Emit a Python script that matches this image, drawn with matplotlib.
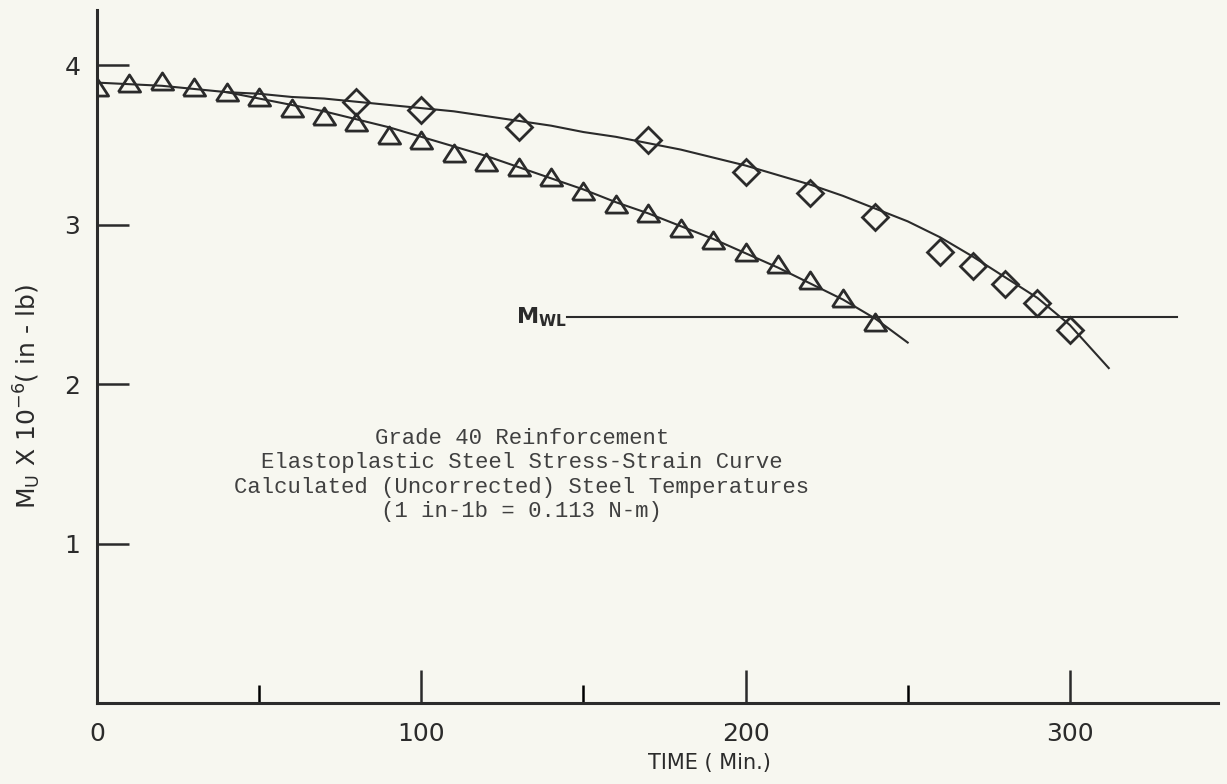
import matplotlib
matplotlib.use("Agg")
import matplotlib.pyplot as plt

# marker readings (time in min, moment x 1e-6 in-lb)
tri_t = [0, 10, 20, 30, 40, 50, 60, 70, 80, 90, 100, 110, 120, 130, 140, 150,
         160, 170, 180, 190, 200, 210, 220, 230, 240]
tri_m = [3.86, 3.89, 3.90, 3.86, 3.83, 3.80, 3.73, 3.68, 3.64, 3.56, 3.53, 3.45,
         3.39, 3.36, 3.30, 3.21, 3.13, 3.07, 2.98, 2.90, 2.83, 2.75, 2.65, 2.54, 2.39]

dia_t = [80, 100, 130, 170, 200, 220, 240, 260, 270, 280, 290, 300]
dia_m = [3.77, 3.72, 3.61, 3.53, 3.33, 3.20, 3.05, 2.83, 2.74, 2.63, 2.51, 2.34]

# fitted curves as drawn on the original
tri_curve_t = [0, 10, 20, 30, 40, 50, 60, 70, 80, 90, 100, 110, 120, 130, 140,
               150, 160, 170, 180, 190, 200, 210, 220, 230, 240, 250]
tri_curve_m = [3.89, 3.88, 3.87, 3.85, 3.83, 3.79, 3.75, 3.71, 3.66, 3.61, 3.55,
               3.49, 3.43, 3.36, 3.29, 3.22, 3.14, 3.07, 2.99, 2.91, 2.82, 2.73,
               2.63, 2.53, 2.41, 2.26]

dia_curve_t = [40, 50, 60, 70, 80, 90, 100, 110, 120, 130, 140, 150, 160, 170,
               180, 190, 200, 210, 220, 230, 240, 250, 260, 270, 280, 290, 300, 312]
dia_curve_m = [3.83, 3.82, 3.80, 3.79, 3.77, 3.75, 3.73, 3.71, 3.68, 3.65, 3.62,
               3.58, 3.55, 3.51, 3.47, 3.42, 3.37, 3.31, 3.25, 3.18, 3.10, 3.02,
               2.92, 2.80, 2.67, 2.54, 2.37, 2.10]

mwl_t = [145, 333]
mwl_m = [2.42, 2.42]

x_major = [0, 100, 200, 300]
x_minor = [50, 150, 250]
y_ticks = [1, 2, 3, 4]

note = ("Grade 40 Reinforcement\n"
        "Elastoplastic Steel Stress-Strain Curve\n"
        "Calculated (Uncorrected) Steel Temperatures\n"
        "(1 in-1b = 0.113 N-m)")

ink = "#2b2b2b"
paper = "#f7f7f0"

fig = plt.figure(figsize=(12.27, 7.84), dpi=100, facecolor=paper)
ax = fig.add_axes([0.0791, 0.1033, 0.9136, 0.8839])
ax.set_facecolor(paper)

ax.plot(tri_curve_t, tri_curve_m, color=ink, lw=1.5)
ax.plot(dia_curve_t, dia_curve_m, color=ink, lw=1.5)
ax.plot(mwl_t, mwl_m, color=ink, lw=1.5)

tri_marker = [(-1, -0.77), (1, -0.77), (0, 0.77), (-1, -0.77)]
ax.plot(tri_t, tri_m, ls="none", marker=tri_marker, ms=16, mfc="none",
        mec=ink, mew=2.0)
ax.plot(dia_t, dia_m, ls="none", marker="D", ms=13.5, mfc="none",
        mec=ink, mew=2.0)

ax.text(145, 2.42, r"$\mathregular{M_{WL}}$", ha="right", va="center",
        fontsize=16, fontweight="bold", color=ink)

ax.text(131, 1.43, note, ha="center", va="center", fontsize=16,
        family="Liberation Mono", color="#404040", linespacing=1.2)

ax.set_xlim(0, 345.7)
ax.set_ylim(0, 4.345)
for s in ["top", "right"]:
    ax.spines[s].set_visible(False)
for s in ["left", "bottom"]:
    ax.spines[s].set_linewidth(2.2)
    ax.spines[s].set_color(ink)

ax.set_xticks(x_major)
ax.set_xticks(x_minor, minor=True)
ax.set_yticks(y_ticks)
ax.tick_params(axis="x", which="major", direction="in", length=24, width=1.8,
               pad=14, labelsize=18, colors=ink)
ax.tick_params(axis="x", which="minor", direction="in", length=13, width=1.8)
ax.tick_params(axis="y", direction="in", length=23, width=1.8, pad=12,
               labelsize=18, colors=ink)

fig.text(709 / 1227, 1 - 763 / 784, "TIME ( Min.)", ha="center", va="center",
         fontsize=15, color=ink)
fig.text(27 / 1227, 1 - 397 / 784,
         r"M$_\mathregular{U}$ X 10$^{\mathregular{-6}}$( in - lb)",
         rotation=90, ha="center", va="center", fontsize=18, color=ink)

fig.savefig("out.png", dpi=100, facecolor=paper)
